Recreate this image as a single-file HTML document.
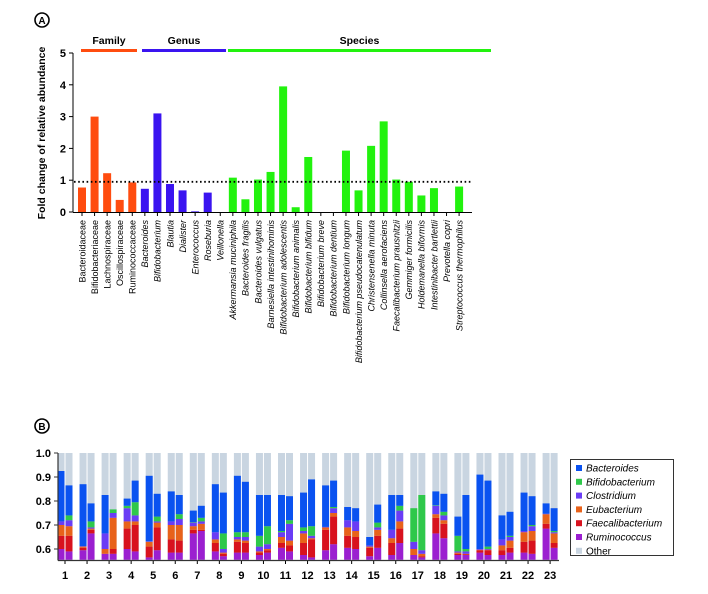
<!DOCTYPE html>
<html><head><meta charset="utf-8">
<style>
html,body{margin:0;padding:0;background:#fff;}
svg{display:block;font-family:"Liberation Sans",Arial,sans-serif;}
</style></head>
<body>
<svg id="chart" width="708" height="594" viewBox="0 0 708 594" xmlns="http://www.w3.org/2000/svg">
<g id="panelA"></g>
<g id="panelB"></g>
</svg>
<script>
// ---------- Panel A data ----------
const catsA = ["Bacteroidaceae","Bifidobacteriaceae","Lachnospiraceae","Oscillospiraceae","Ruminococcaceae",
"Bacteroides","Bifidobacterium","Blautia","Dialister","Enterococcus","Roseburia","Veillonella",
"Akkermansia muciniphila","Bacteroides fragilis","Bacteroides vulgatus","Barnesiella intestinihominis","Bifidobacterium adolescentis","Bifidobacterium animalis","Bifidobacterium bifidum","Bifidobacterium breve","Bifidobacterium dentium","Bifidobacterium longum","Bifidobacterium pseudocatenulatum","Christensenella minuta","Collinsella aerofaciens","Faecalibacterium prausnitzii","Gemmiger formicilis","Holdemanella biformis","Intestinibacter bartlettii","Prevotella copri","Streptococcus thermophilus"];
const levelsA = ["family","family","family","family","family","genus","genus","genus","genus","genus","genus","genus",
"species","species","species","species","species","species","species","species","species","species","species","species","species","species","species","species","species","species","species"];
const valuesA = [0.77,3.0,1.22,0.38,0.93, 0.73,3.1,0.88,0.68,0.02,0.61,0,
1.08,0.4,1.02,1.26,3.95,0.15,1.73,0,0,1.93,0.68,2.08,2.85,1.02,0.95,0.52,0.75,0,0.8];
const ticksA = [0,1,2,3,4,5];
const refLineA = 0.95;

// ---------- Panel B data ----------
const groupsB = ["1","2","3","4","5","6","7","8","9","10","11","12","13","14","15","16","17","18","19","20","21","22","23"];
const ticksB = [0.6,0.7,0.8,0.9,1.0];
const seriesNames = ["Ruminococcus","Faecalibacterium","Eubacterium","Clostridium","Bifidobacterium","Bacteroides"];
const rumTop = [0.60,0.59, 0.595,0.665, 0.58,0.58, 0.60,0.59, 0.565,0.595, 0.585,0.585, 0.665,0.675, 0.59,0.57, 0.585,0.585, 0.575,0.585, 0.605,0.59, 0.575,0.565, 0.595,0.62, 0.605,0.60, 0.57,0.605, 0.575,0.625, 0.575,0.565, 0.665,0.645, 0.575,0.575, 0.585,0.575, 0.575,0.585, 0.585,0.58, 0.685,0.605];
const faecTop = [0.655,0.655, 0.605,0.68, 0.58,0.60, 0.685,0.70, 0.61,0.69, 0.64,0.635, 0.68,0.68, 0.625,0.58, 0.63,0.625, 0.585,0.595, 0.625,0.615, 0.625,0.64, 0.68,0.735, 0.655,0.65, 0.605,0.655, 0.625,0.685, 0.575,0.57, 0.73,0.705, 0.58,0.577, 0.595,0.595, 0.595,0.605, 0.63,0.635, 0.705,0.625];
const eubTop = [0.70,0.695, 0.61,0.685, 0.60,0.73, 0.715,0.715, 0.63,0.71, 0.70,0.70, 0.695,0.705, 0.64,0.585, 0.64,0.635, 0.59,0.60, 0.65,0.635, 0.665,0.645, 0.69,0.75, 0.69,0.675, 0.61,0.68, 0.645,0.715, 0.60,0.58, 0.745,0.72, 0.585,0.58, 0.597,0.597, 0.615,0.635, 0.67,0.675, 0.745,0.665];
const closTop = [0.715,0.72, 0.612,0.69, 0.665,0.75, 0.77,0.74, 0.632,0.715, 0.715,0.725, 0.71,0.715, 0.67,0.60, 0.65,0.65, 0.61,0.62, 0.67,0.705, 0.675,0.655, 0.692,0.77, 0.72,0.715, 0.615,0.69, 0.68,0.76, 0.63,0.595, 0.78,0.74, 0.59,0.59, 0.60,0.60, 0.64,0.65, 0.675,0.695, 0.747,0.67];
const bifTop = [0.715,0.74, 0.612,0.715, 0.665,0.765, 0.78,0.795, 0.632,0.735, 0.715,0.745, 0.712,0.73, 0.67,0.665, 0.67,0.67, 0.655,0.695, 0.675,0.72, 0.69,0.695, 0.692,0.775, 0.72,0.715, 0.615,0.71, 0.68,0.78, 0.77,0.825, 0.782,0.755, 0.655,0.60, 0.60,0.61, 0.64,0.655, 0.675,0.70, 0.747,0.675];
const bactTop = [0.925,0.865, 0.87,0.79, 0.825,0.765, 0.81,0.885, 0.905,0.83, 0.84,0.825, 0.76,0.78, 0.87,0.835, 0.905,0.88, 0.825,0.825, 0.825,0.82, 0.835,0.89, 0.865,0.885, 0.775,0.77, 0.65,0.785, 0.825,0.825, 0.77,0.825, 0.84,0.83, 0.735,0.825, 0.91,0.885, 0.74,0.755, 0.835,0.82, 0.79,0.77];

const NS = "http://www.w3.org/2000/svg";
function mk(parent, tag, attrs, text){
  const e = document.createElementNS(NS, tag);
  for (const k in attrs) e.setAttribute(k, attrs[k]);
  if (text !== undefined) e.textContent = text;
  parent.appendChild(e);
  return e;
}

// ================= PANEL A =================
(function(){
  const g = document.getElementById('panelA');
  const x0 = 82, step = 12.57, bw = 8;
  const yA = v => 212 - v * 31.8;
  const xA = i => x0 + i * step;
  const colA = {family:"#ff4c0f", genus:"#3a14f0", species:"#22f20e"};

  const c = mk(g,'circle',{cx:42,cy:20,r:7,fill:'#fff',stroke:'#000','stroke-width':1.6});
  
  
  const ct = mk(g,'text',{x:42,y:24,'text-anchor':'middle','font-size':10,'font-weight':'bold'},'A');
  
  

  const hdr = [["Family",81,137,"#ff4c0f"],["Genus",142,226,"#3a14f0"],["Species",228,491,"#22f20e"]];
  hdr.forEach(h=>{
    const l = mk(g,'line',{x1:h[1],x2:h[2],y1:50.5,y2:50.5,stroke:h[3],'stroke-width':3});
    
    
    const t = mk(g,'text',{x:(h[1]+h[2])/2,y:44,'text-anchor':'middle','font-size':10.5,'font-weight':'bold'},h[0]);
    
    
  });

  const ax = mk(g,'line',{x1:73,x2:73,y1:yA(5),y2:yA(0)+0.5,stroke:'#000','stroke-width':1});
  
  
  ticksA.forEach(t=>{
    const tl = mk(g,'line',{x1:69,x2:73,y1:yA(t),y2:yA(t),stroke:'#000','stroke-width':1});
    
    
    const tt = mk(g,'text',{x:66,y:yA(t)+4,'text-anchor':'end','font-size':11,'font-weight':'bold'},String(t));
    
    
  });
  const yt = mk(g,'text',{x:0,y:0,transform:'translate(45,133) rotate(-90)','text-anchor':'middle','font-size':10.5,'font-weight':'bold'},'Fold change of relative abundance');
  
  

  const xl = mk(g,'line',{x1:73,x2:472,y1:212.5,y2:212.5,stroke:'#000','stroke-width':1});
  
  

  catsA.forEach((name,i)=>{
    const v = valuesA[i];
    const top = yA(v);
    const r = mk(g,'rect',{x:xA(i)-bw/2,y:top,width:bw,height:Math.max(212-top,0),fill:colA[levelsA[i]]});
    
    
    const tk = mk(g,'line',{x1:xA(i),x2:xA(i),y1:212.5,y2:216,stroke:'#000','stroke-width':1});
    
    
    const lab = mk(g,'text',{x:0,y:0,transform:`translate(${xA(i)+3.3},220) rotate(-90)`,'text-anchor':'end','font-size':9,'font-style':levelsA[i]==='family'?'normal':'italic'},name);
    
    
  });

  const rl = mk(g,'line',{x1:74,x2:471,y1:yA(refLineA),y2:yA(refLineA),stroke:'#000','stroke-width':1.8,'stroke-dasharray':'1.6 2.6'});
  
  
})();

// ================= PANEL B =================
(function(){
  const g = document.getElementById('panelB');
  const yB = v => 453 + (1.0 - v) * 240;
  const base = 0.555;
  const gx = i => 65 + i * 22.05;
  const bw = 7;
  const colors = {Ruminococcus:"#9b1fd0",Faecalibacterium:"#d8121e",Eubacterium:"#e8621a",Clostridium:"#6a3cf5",Bifidobacterium:"#2ec84a",Bacteroides:"#0a52f0",Other:"#c9d5e1"};
  const tops = [rumTop,faecTop,eubTop,closTop,bifTop,bactTop];

  const c = mk(g,'circle',{cx:42,cy:426,r:7,fill:'#fff',stroke:'#000','stroke-width':1.6});
  
  
  const ct = mk(g,'text',{x:42,y:430,'text-anchor':'middle','font-size':10,'font-weight':'bold'},'B');
  
  

  groupsB.forEach((gname,gi)=>{
    [0,1].forEach(k=>{
      const idx = gi*2+k;
      const x = gx(gi) + (k===0 ? -bw-0.5 : 0.5);
      const o = mk(g,'rect',{x:x,y:yB(1.0),width:bw,height:yB(base)-yB(1.0),fill:colors.Other});
      
      
      let prev = base;
      tops.forEach((arr,si)=>{
        const t = arr[idx];
        if (t > prev) {
          const r = mk(g,'rect',{x:x,y:yB(t),width:bw,height:yB(prev)-yB(t),fill:colors[seriesNames[si]]});
          
          
          prev = t;
        }
      });
    });
    const lab = mk(g,'text',{x:gx(gi),y:579,'text-anchor':'middle','font-size':11,'font-weight':'bold'},gname);
    
    
    const tk = mk(g,'line',{x1:gx(gi),x2:gx(gi),y1:560,y2:564,stroke:'#000','stroke-width':1});
    
    
  });

  const ya = mk(g,'line',{x1:58,x2:58,y1:yB(1.0),y2:560.5,stroke:'#333','stroke-width':1.2});
  
  
  const xa = mk(g,'line',{x1:58,x2:559,y1:560.5,y2:560.5,stroke:'#333','stroke-width':1.2});
  
  
  ticksB.forEach(t=>{
    const tl = mk(g,'line',{x1:54,x2:58,y1:yB(t),y2:yB(t),stroke:'#333','stroke-width':1});
    
    
    const tt = mk(g,'text',{x:51,y:yB(t)+4,'text-anchor':'end','font-size':11,'font-weight':'bold'},t.toFixed(1));
    
    
  });

  const lg = mk(g,'g',{});
  
  
  const box = mk(lg,'rect',{x:570.5,y:459.5,width:103,height:96,fill:'#fff',stroke:'#333','stroke-width':1});
  
  
  const legNames = ["Bacteroides","Bifidobacterium","Clostridium","Eubacterium","Faecalibacterium","Ruminococcus","Other"];
  legNames.forEach((n,i)=>{
    const y = 465 + i*13.8;
    const s = mk(lg,'rect',{x:576,y:y,width:6,height:6,fill:colors[n]});
    
    
    const t = mk(lg,'text',{x:586,y:y+6.5,'font-size':10,'font-style':n==='Other'?'normal':'italic'},n);
    
    
  });
})();
</script>
</body></html>
